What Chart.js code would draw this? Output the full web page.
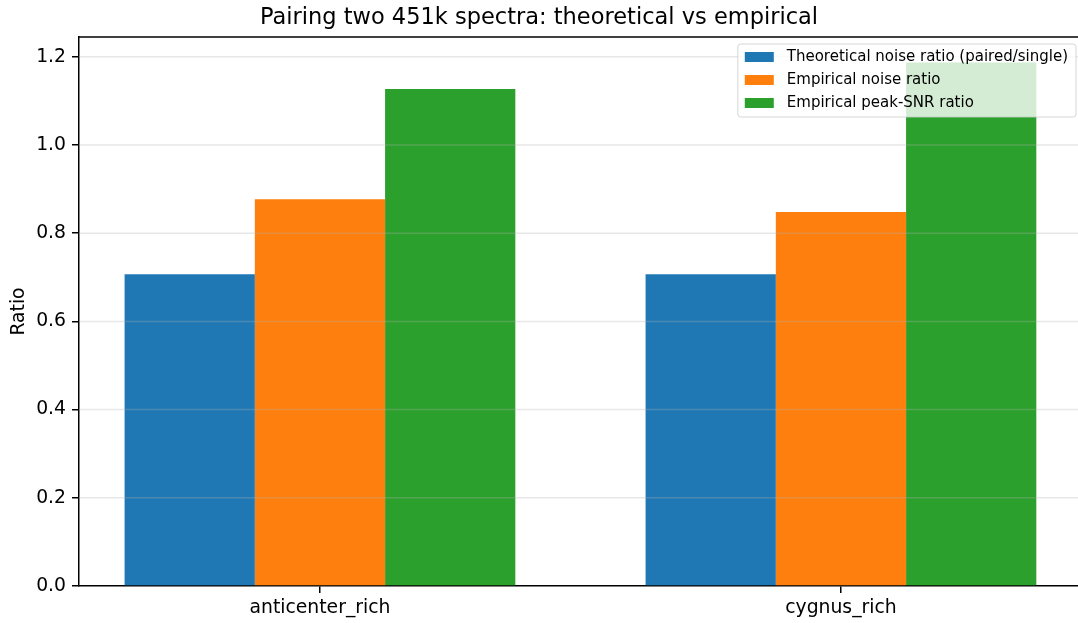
<!DOCTYPE html>
<html lang="en">
<head>
<meta charset="UTF-8">
<title>Pairing two 451k spectra</title>
<script src="https://cdn.jsdelivr.net/npm/chart.js@4"></script>
<style>
  body { margin: 0; background: #fff; }
  #wrap { width: 1078px; height: 623px; position: relative; }
</style>
</head>
<body>
<div id="wrap"><canvas id="myChart"></canvas></div>
<script>
// data
const categories = ['anticenter_rich', 'cygnus_rich'];
const seriesNames = ['Theoretical noise ratio (paired/single)', 'Empirical noise ratio', 'Empirical peak-SNR ratio'];
const theoretical = [0.707, 0.707];
const empiricalNoise = [0.877, 0.848];
const empiricalSnr = [1.127, 1.187];
const yTicks = [0.0, 0.2, 0.4, 0.6, 0.8, 1.0, 1.2];
const colors = ['#1f77b4', '#ff7f0e', '#2ca02c'];

Chart.defaults.font.family = "'DejaVu Sans', sans-serif";
Chart.defaults.color = '#000';

function toPoints(vals) {
  return vals.map((v, i) => ({ x: i, y: v }));
}

// grid above the bars (like matplotlib here), legend box, top spine
const overlay = {
  id: 'overlay',
  afterDatasetsDraw(chart) {
    const c = chart.ctx, a = chart.chartArea, ys = chart.scales.y;
    c.save();
    c.strokeStyle = 'rgba(176,176,176,0.3)';
    c.lineWidth = 1.5;
    yTicks.forEach(t => {
      if (t === 0) return;
      const py = ys.getPixelForValue(t);
      c.beginPath(); c.moveTo(a.left, py); c.lineTo(a.right, py); c.stroke();
    });
    // top spine
    c.strokeStyle = '#000';
    c.lineWidth = 1.5;
    c.beginPath(); c.moveTo(a.left, a.top); c.lineTo(a.right, a.top); c.stroke();

    // legend
    c.font = "15px 'DejaVu Sans'";
    let tw = 0;
    seriesNames.forEach(n => { tw = Math.max(tw, c.measureText(n).width); });
    const bw = 49 + tw + 8, bh = 73;
    const bx = a.right - 2 - bw, by = a.top + 7;
    c.beginPath();
    c.roundRect(bx, by, bw, bh, 3);
    c.fillStyle = 'rgba(255,255,255,0.8)';
    c.fill();
    c.strokeStyle = 'rgba(204,204,204,0.8)';
    c.lineWidth = 1;
    c.stroke();
    c.textBaseline = 'middle';
    c.textAlign = 'left';
    seriesNames.forEach((n, i) => {
      const cy = by + 13 + i * 23;
      c.fillStyle = colors[i];
      c.fillRect(bx + 7, cy - 5, 29, 10);
      c.fillStyle = '#000';
      c.fillText(n, bx + 49, cy);
    });
    c.restore();
  }
};

const ctx = document.getElementById('myChart');
new Chart(ctx, {
  type: 'bar',
  data: {
    datasets: [
      { label: seriesNames[0], data: toPoints(theoretical), backgroundColor: colors[0] },
      { label: seriesNames[1], data: toPoints(empiricalNoise), backgroundColor: colors[1] },
      { label: seriesNames[2], data: toPoints(empiricalSnr), backgroundColor: colors[2] }
    ]
  },
  options: {
    responsive: true,
    maintainAspectRatio: false,
    animation: false,
    layout: { padding: 0 },
    datasets: { bar: { categoryPercentage: 0.75, barPercentage: 1.0, borderWidth: 0 } },
    plugins: {
      legend: { display: false },
      tooltip: { enabled: false },
      title: {
        display: true,
        text: 'Pairing two 451k spectra: theoretical vs empirical',
        font: { size: 22.5, weight: 'normal' },
        color: '#000',
        padding: { top: 5, bottom: 5 }
      }
    },
    scales: {
      x: {
        type: 'linear',
        min: -0.4625,
        max: 1.455,
        offset: false,
        afterBuildTicks: s => { s.ticks = categories.map((_, i) => ({ value: i })); },
        afterFit: s => { s.height = 37; },
        ticks: {
          callback: v => categories[v],
          font: { size: 18.8 },
          color: '#000',
          padding: 4
        },
        grid: { offset: false, drawOnChartArea: false, drawTicks: true, tickLength: 7, tickColor: '#000', lineWidth: 1.5 },
        border: { color: '#000', width: 1.5 }
      },
      y: {
        min: 0,
        max: 1.245,
        afterFit: s => { s.width = 79; },
        ticks: {
          stepSize: 0.2,
          includeBounds: false,
          callback: v => Number(v).toFixed(1),
          font: { size: 18.8 },
          color: '#000',
          padding: 6
        },
        grid: { drawOnChartArea: false, drawTicks: true, tickLength: 7, tickColor: '#000', lineWidth: 1.5 },
        border: { color: '#000', width: 1.5 },
        title: {
          display: true,
          text: 'Ratio',
          font: { size: 18.8 },
          color: '#000',
          padding: { top: 8, bottom: 0 }
        }
      }
    }
  },
  plugins: [overlay]
});
</script>
</body>
</html>
